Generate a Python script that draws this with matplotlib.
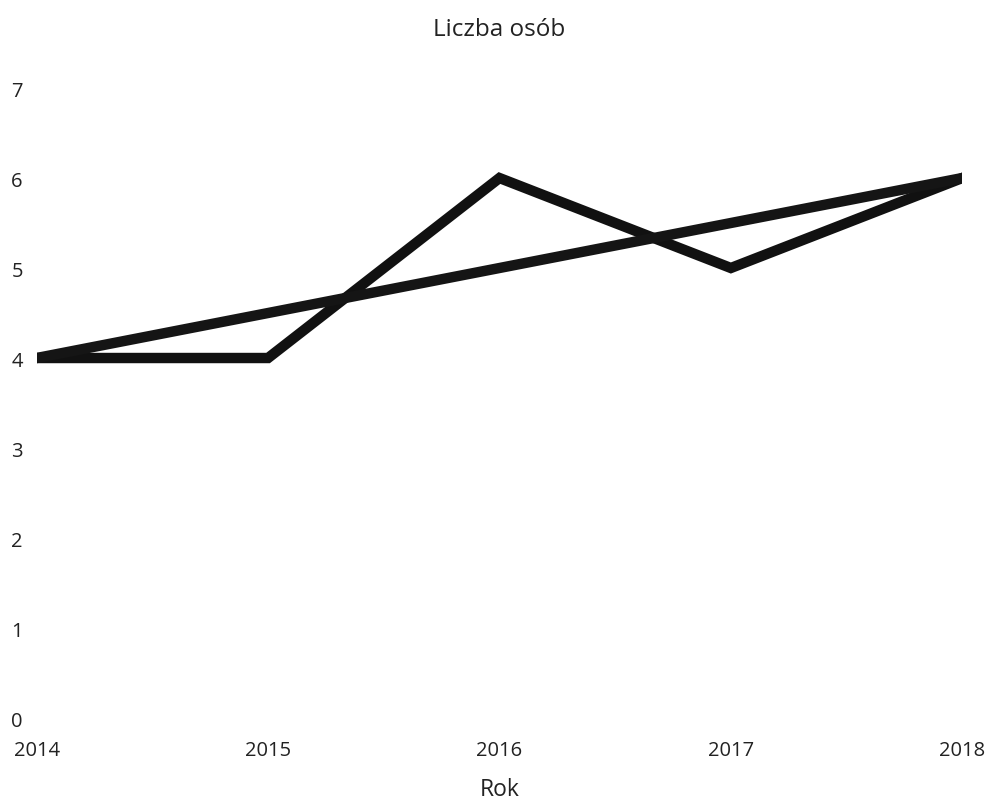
import matplotlib.pyplot as plt

years = [2014, 2015, 2016, 2017, 2018]
osoby_a = [4, 4, 6, 5, 6]
osoby_b = [4, 4.5, 5, 5.5, 6]

plt.rcParams['font.family'] = ['Open Sans', 'DejaVu Sans']

fig = plt.figure(figsize=(9.91, 8.04), dpi=100)
ax = fig.add_axes([0.037, 0.1057, 0.934, 0.7836])

ax.plot(years, osoby_a, color='#111111', linewidth=7.5, solid_joinstyle='miter')
ax.plot(years, osoby_b, color='#151515', linewidth=7.5, solid_joinstyle='miter')

ax.set_xlim(2014, 2018)
ax.set_ylim(0, 7)
ax.set_xticks(years)
ax.set_yticks(range(0, 8))
for s in ax.spines.values():
    s.set_visible(False)
ax.tick_params(length=0, labelsize=14.5, colors='#222222')
ax.tick_params(axis='x', pad=16)
ax.tick_params(axis='y', pad=10)

ax.set_title("Liczba osób", fontsize=17.5, color='#222222', pad=38)
ax.set_xlabel("Rok", fontsize=16.5, color='#222222', labelpad=12)

fig.savefig('out.png', dpi=100)
